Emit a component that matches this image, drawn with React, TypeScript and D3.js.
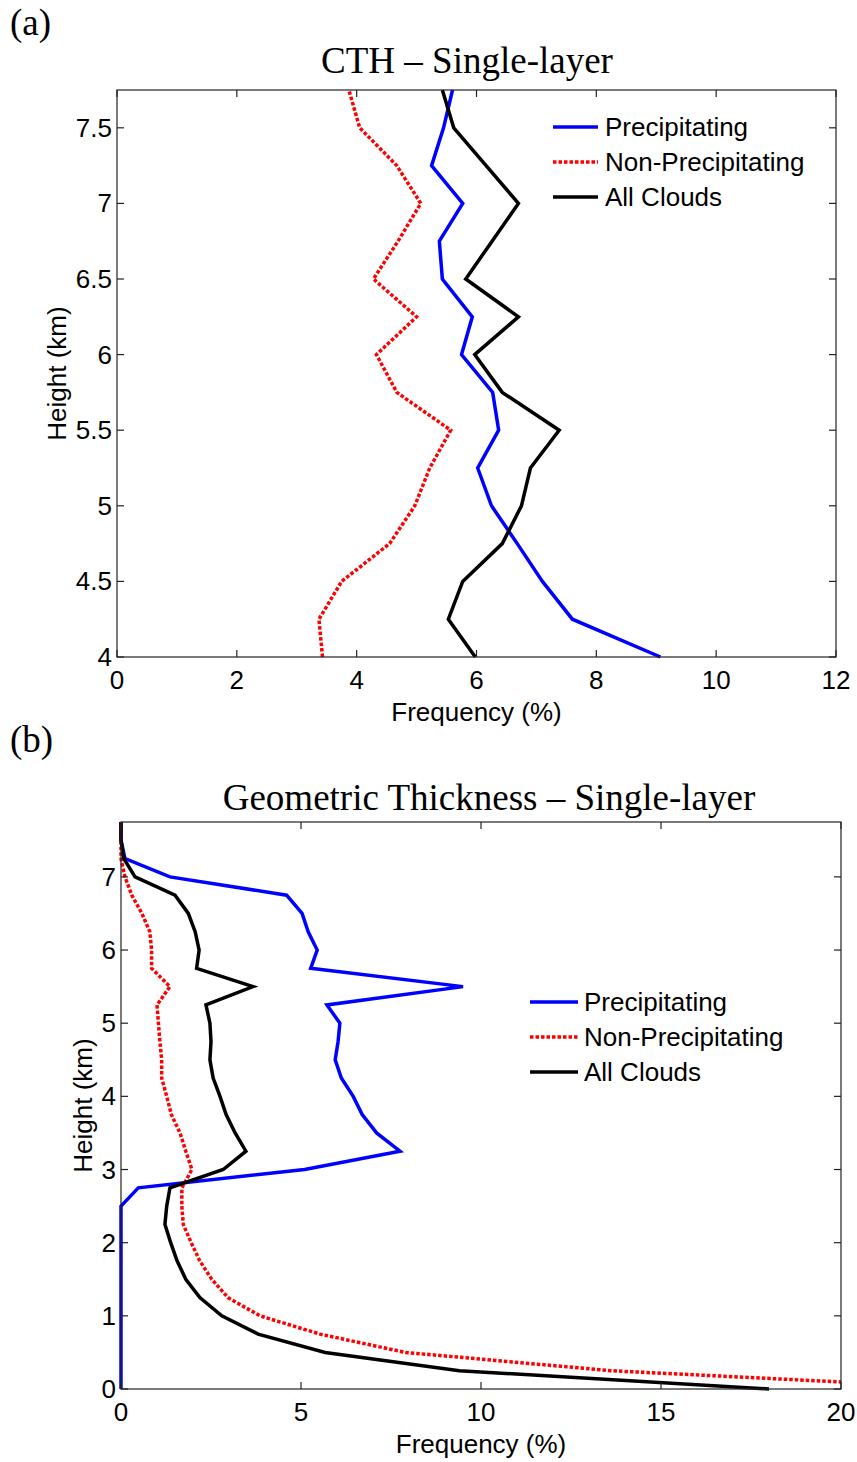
import React from "react";
import * as d3 from "d3";

// ---------- Panel (a): CTH – Single-layer ----------
const heightsA = [4, 4.25, 4.5, 4.75, 5, 5.25, 5.5, 5.75, 6, 6.25, 6.5, 6.75, 7, 7.25, 7.5, 7.75];
const precipA = [9.07, 7.6, 7.1, 6.68, 6.25, 6.02, 6.37, 6.27, 5.75, 5.93, 5.43, 5.38, 5.77, 5.25, 5.45, 5.6];
const nonPrecipA = [3.43, 3.37, 3.75, 4.55, 4.97, 5.22, 5.57, 4.67, 4.33, 5.0, 4.28, 4.69, 5.07, 4.67, 4.05, 3.87];
const allA = [5.98, 5.53, 5.77, 6.43, 6.75, 6.9, 7.38, 6.43, 5.97, 6.7, 5.82, 6.26, 6.7, 6.16, 5.62, 5.43];
const xTicksA = [0, 2, 4, 6, 8, 10, 12];
const yTicksA = [4, 4.5, 5, 5.5, 6, 6.5, 7, 7.5];

// ---------- Panel (b): Geometric Thickness – Single-layer ----------
const heightsB = [0, 0.25, 0.5, 0.75, 1, 1.25, 1.5, 1.75, 2, 2.25, 2.5, 2.75, 3, 3.25, 3.5, 3.75, 4, 4.25, 4.5, 4.75, 5, 5.25, 5.5, 5.75, 6, 6.25, 6.5, 6.75, 7, 7.25, 7.5, 7.75];
const precipB = [0, 0, 0, 0, 0, 0, 0, 0, 0, 0, 0, 0.48, 5.1, 7.75, 7.1, 6.7, 6.45, 6.12, 5.95, 6.03, 6.08, 5.72, 9.5, 5.27, 5.45, 5.2, 5.03, 4.6, 1.36, 0.11, 0, 0];
const nonPrecipB = [24, 13.6, 7.9, 5.53, 3.86, 2.97, 2.52, 2.19, 1.95, 1.73, 1.69, 1.69, 1.97, 1.8, 1.64, 1.4, 1.27, 1.13, 1.13, 1.08, 1.04, 1.0, 1.36, 0.85, 0.85, 0.8, 0.58, 0.3, 0.11, 0, 0, 0];
const allB = [18.0, 9.4, 5.67, 3.81, 2.8, 2.19, 1.8, 1.56, 1.38, 1.22, 1.27, 1.36, 2.84, 3.47, 3.17, 2.92, 2.75, 2.56, 2.47, 2.5, 2.47, 2.36, 3.67, 2.1, 2.17, 2.06, 1.87, 1.5, 0.39, 0.08, 0, 0];
const xTicksB = [0, 5, 10, 15, 20];
const yTicksB = [0, 1, 2, 3, 4, 5, 6, 7];

const seriesNames = ["Precipitating", "Non-Precipitating", "All Clouds"];
const seriesColors = ["#0000ff", "#ff0000", "#000000"];
const seriesDash = [null, "3.5 2", null];

const SANS = "'Liberation Sans', Arial, Helvetica, sans-serif";
const SERIF = "'Liberation Serif', 'Times New Roman', serif";
const FS = 26;

type PanelProps = {
  id: string;
  left: number; right: number; top: number; bottom: number;
  xDomain: [number, number]; yDomain: [number, number];
  xTicks: number[]; yTicks: number[];
  heights: number[];
  series: number[][];
  title: string; titleX: number; titleY: number; titleSize: number;
  xLabelY: number; yLabelX: number;
  legendX1: number; legendX2: number; legendTextX: number; legendY0: number;
};

function Panel(p: PanelProps) {
  const x = d3.scaleLinear().domain(p.xDomain).range([p.left, p.right]);
  const y = d3.scaleLinear().domain(p.yDomain).range([p.bottom, p.top]);
  const line = d3.line<[number, number]>().x((d) => x(d[0])).y((d) => y(d[1]));
  const tl = 7;
  const fmt = (v: number) => String(v);
  const clipId = `clip-${p.id}`;
  return (
    <g>
      <defs>
        <clipPath id={clipId}>
          <rect x={p.left - 3} y={p.top - 3} width={p.right - p.left + 3} height={p.bottom - p.top + 6} />
        </clipPath>
      </defs>
      <text x={p.titleX} y={p.titleY} textAnchor="middle" fontFamily={SERIF} fontSize={p.titleSize} fill="#000">
        {p.title}
      </text>
      <g clipPath={`url(#${clipId})`}>
        {p.series.map((vals, i) => (
          <path
            key={i}
            d={line(vals.map((v, k) => [v, p.heights[k]] as [number, number])) || ""}
            fill="none"
            stroke={seriesColors[i]}
            strokeWidth={3.5}
            strokeDasharray={seriesDash[i] || undefined}
            strokeLinejoin="miter"
          />
        ))}
      </g>
      <rect x={p.left} y={p.top} width={p.right - p.left} height={p.bottom - p.top} fill="none" stroke="#222" strokeWidth={1.2} />
      {p.xTicks.map((t) => (
        <g key={`x${t}`}>
          <line x1={x(t)} x2={x(t)} y1={p.bottom} y2={p.bottom - tl} stroke="#222" strokeWidth={1.2} />
          <line x1={x(t)} x2={x(t)} y1={p.top} y2={p.top + tl} stroke="#222" strokeWidth={1.2} />
          <text x={x(t)} y={p.bottom + 32} textAnchor="middle" fontFamily={SANS} fontSize={FS} fill="#000">
            {fmt(t)}
          </text>
        </g>
      ))}
      {p.yTicks.map((t) => (
        <g key={`y${t}`}>
          <line x1={p.left} x2={p.left + tl} y1={y(t)} y2={y(t)} stroke="#222" strokeWidth={1.2} />
          <line x1={p.right} x2={p.right - tl} y1={y(t)} y2={y(t)} stroke="#222" strokeWidth={1.2} />
          <text x={p.left - 5} y={y(t) + 9} textAnchor="end" fontFamily={SANS} fontSize={FS} fill="#000">
            {fmt(t)}
          </text>
        </g>
      ))}
      <text x={(p.left + p.right) / 2} y={p.xLabelY} textAnchor="middle" fontFamily={SANS} fontSize={FS} fill="#000">
        Frequency (%)
      </text>
      <text
        transform={`translate(${p.yLabelX},${(p.top + p.bottom) / 2}) rotate(-90)`}
        textAnchor="middle"
        fontFamily={SANS}
        fontSize={FS}
        fill="#000"
      >
        Height (km)
      </text>
      {seriesNames.map((name, i) => {
        const ly = p.legendY0 + i * 35;
        return (
          <g key={name}>
            <line
              x1={p.legendX1}
              x2={p.legendX2}
              y1={ly}
              y2={ly}
              stroke={seriesColors[i]}
              strokeWidth={3.5}
              strokeDasharray={seriesDash[i] || undefined}
            />
            <text x={p.legendTextX} y={ly + 9} fontFamily={SANS} fontSize={FS} fill="#000">
              {name}
            </text>
          </g>
        );
      })}
    </g>
  );
}

export default function App() {
  return (
    <svg
      width={857}
      height={1462}
      viewBox="0 0 857 1462"
      style={{ position: "absolute", left: 0, top: 0, display: "block", background: "#fff" }}
    >
      <rect x={0} y={0} width={857} height={1462} fill="#fff" />
      <text x={10} y={35} fontFamily={SERIF} fontSize={37} fill="#000">(a)</text>
      <text x={10} y={752} fontFamily={SERIF} fontSize={37} fill="#000">(b)</text>
      <Panel
        id="a"
        left={117}
        right={836}
        top={90}
        bottom={657}
        xDomain={[0, 12]}
        yDomain={[4, 7.75]}
        xTicks={xTicksA}
        yTicks={yTicksA}
        heights={heightsA}
        series={[precipA, nonPrecipA, allA]}
        title="CTH – Single-layer"
        titleX={467}
        titleY={73}
        titleSize={37}
        xLabelY={721}
        yLabelX={66}
        legendX1={553}
        legendX2={598}
        legendTextX={605}
        legendY0={127}
      />
      <Panel
        id="b"
        left={121}
        right={841}
        top={822}
        bottom={1389}
        xDomain={[0, 20]}
        yDomain={[0, 7.75]}
        xTicks={xTicksB}
        yTicks={yTicksB}
        heights={heightsB}
        series={[precipB, nonPrecipB, allB]}
        title="Geometric Thickness – Single-layer"
        titleX={489}
        titleY={810}
        titleSize={37}
        xLabelY={1453}
        yLabelX={92}
        legendX1={530}
        legendX2={578}
        legendTextX={584}
        legendY0={1002}
      />
    </svg>
  );
}
